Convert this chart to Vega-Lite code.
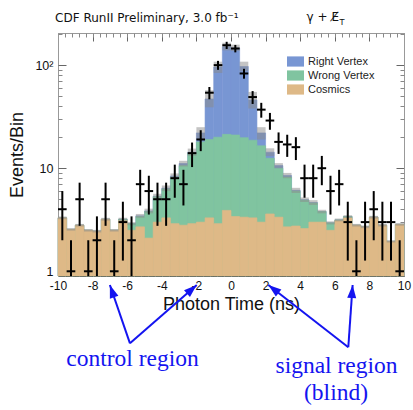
{
  "$schema": "https://vega.github.io/schema/vega-lite/v6.json",
  "width": 346,
  "height": 243,
  "autosize": "none",
  "padding": {"left": 58, "top": 33, "right": 9, "bottom": 134},
  "background": "white",
  "config": {"view": {"stroke": null}, "font": "Liberation Sans", "axis": {"zindex": 1, "grid": false}},
  "datasets": {
    "bins": [
      {"t0": -10, "t1": -9.5, "t": -9.75, "n": 4, "lo": 2, "hi": 6, "cos": 3.3, "wv": 3.3, "rv": 3.3, "blo": 3.2, "bhi": 3.4},
      {"t0": -9.5, "t1": -9, "t": -9.25, "n": 1, "lo": 0, "hi": 2, "cos": 2.55, "wv": 2.55, "rv": 2.55, "blo": 2.48, "bhi": 2.62},
      {"t0": -9, "t1": -8.5, "t": -8.75, "n": 5, "lo": 2.76, "hi": 7.24, "cos": 2.8, "wv": 2.8, "rv": 2.8, "blo": 2.72, "bhi": 2.88},
      {"t0": -8.5, "t1": -8, "t": -8.25, "n": 1, "lo": 0, "hi": 2, "cos": 2.5, "wv": 2.5, "rv": 2.5, "blo": 2.43, "bhi": 2.57},
      {"t0": -8, "t1": -7.5, "t": -7.75, "n": 2, "lo": 0.59, "hi": 3.41, "cos": 2.45, "wv": 2.45, "rv": 2.45, "blo": 2.38, "bhi": 2.52},
      {"t0": -7.5, "t1": -7, "t": -7.25, "n": 5, "lo": 2.76, "hi": 7.24, "cos": 3.2, "wv": 3.2, "rv": 3.2, "blo": 3.1, "bhi": 3.3},
      {"t0": -7, "t1": -6.5, "t": -6.75, "n": 1, "lo": 0, "hi": 2, "cos": 2.5, "wv": 2.5, "rv": 2.5, "blo": 2.43, "bhi": 2.57},
      {"t0": -6.5, "t1": -6, "t": -6.25, "n": 3, "lo": 1.27, "hi": 4.73, "cos": 3.1, "wv": 3.2, "rv": 3.2, "blo": 3.1, "bhi": 3.3},
      {"t0": -6, "t1": -5.5, "t": -5.75, "n": 2, "lo": 0.59, "hi": 3.41, "cos": 2.5, "wv": 2.9, "rv": 2.9, "blo": 2.8, "bhi": 3.0},
      {"t0": -5.5, "t1": -5, "t": -5.25, "n": 7, "lo": 4.35, "hi": 9.65, "cos": 2.7, "wv": 3.4, "rv": 3.45, "blo": 3.3, "bhi": 3.6},
      {"t0": -5, "t1": -4.5, "t": -4.75, "n": 6, "lo": 3.55, "hi": 8.45, "cos": 2.1, "wv": 3.8, "rv": 3.85, "blo": 3.65, "bhi": 4.05},
      {"t0": -4.5, "t1": -4, "t": -4.25, "n": 5, "lo": 2.76, "hi": 7.24, "cos": 3.0, "wv": 5.3, "rv": 5.35, "blo": 5.05, "bhi": 5.65},
      {"t0": -4, "t1": -3.5, "t": -3.75, "n": 5, "lo": 2.76, "hi": 7.24, "cos": 3.3, "wv": 6.3, "rv": 6.4, "blo": 6.0, "bhi": 6.8},
      {"t0": -3.5, "t1": -3, "t": -3.25, "n": 8, "lo": 5.17, "hi": 10.83, "cos": 2.9, "wv": 8.2, "rv": 8.4, "blo": 7.9, "bhi": 8.9},
      {"t0": -3, "t1": -2.5, "t": -2.75, "n": 7, "lo": 4.35, "hi": 9.65, "cos": 2.8, "wv": 10.6, "rv": 11.1, "blo": 10.4, "bhi": 11.8},
      {"t0": -2.5, "t1": -2, "t": -2.25, "n": 14, "lo": 10.26, "hi": 17.74, "cos": 2.9, "wv": 14.0, "rv": 14.3, "blo": 13.2, "bhi": 15.5},
      {"t0": -2, "t1": -1.5, "t": -1.75, "n": 19, "lo": 14.64, "hi": 23.36, "cos": 3.0, "wv": 18, "rv": 22, "blo": 19, "bhi": 25},
      {"t0": -1.5, "t1": -1, "t": -1.25, "n": 54, "lo": 46.65, "hi": 61.35, "cos": 3.3, "wv": 19, "rv": 47, "blo": 39, "bhi": 57},
      {"t0": -1, "t1": -0.5, "t": -0.75, "n": 100, "lo": 90, "hi": 110, "cos": 2.9, "wv": 20, "rv": 96, "blo": 84, "bhi": 108},
      {"t0": -0.5, "t1": 0, "t": -0.25, "n": 156, "lo": 143.51, "hi": 168.49, "cos": 3.9, "wv": 21.3, "rv": 151, "blo": 139, "bhi": 165},
      {"t0": 0, "t1": 0.5, "t": 0.25, "n": 145, "lo": 132.96, "hi": 157.04, "cos": 3.4, "wv": 21, "rv": 147, "blo": 137, "bhi": 158},
      {"t0": 0.5, "t1": 1, "t": 0.75, "n": 83, "lo": 73.89, "hi": 92.11, "cos": 3.35, "wv": 19.8, "rv": 97, "blo": 87, "bhi": 108},
      {"t0": 1, "t1": 1.5, "t": 1.25, "n": 49, "lo": 42, "hi": 56, "cos": 3.3, "wv": 18.7, "rv": 46, "blo": 38, "bhi": 55},
      {"t0": 1.5, "t1": 2, "t": 1.75, "n": 37, "lo": 30.92, "hi": 43.08, "cos": 3.0, "wv": 16.5, "rv": 22, "blo": 19, "bhi": 25},
      {"t0": 2, "t1": 2.5, "t": 2.25, "n": 29, "lo": 23.61, "hi": 34.39, "cos": 3.6, "wv": 12.5, "rv": 14.3, "blo": 13.1, "bhi": 15.6},
      {"t0": 2.5, "t1": 3, "t": 2.75, "n": 18, "lo": 13.76, "hi": 22.24, "cos": 3.35, "wv": 10, "rv": 10.6, "blo": 10, "bhi": 11.2},
      {"t0": 3, "t1": 3.5, "t": 3.25, "n": 17, "lo": 12.88, "hi": 21.12, "cos": 2.7, "wv": 8.2, "rv": 8.5, "blo": 8.0, "bhi": 9.0},
      {"t0": 3.5, "t1": 4, "t": 3.75, "n": 16, "lo": 12, "hi": 20, "cos": 2.75, "wv": 6.0, "rv": 6.1, "blo": 5.75, "bhi": 6.45},
      {"t0": 4, "t1": 4.5, "t": 4.25, "n": 8, "lo": 5.17, "hi": 10.83, "cos": 2.6, "wv": 4.9, "rv": 4.95, "blo": 4.7, "bhi": 5.2},
      {"t0": 4.5, "t1": 5, "t": 4.75, "n": 8, "lo": 5.17, "hi": 10.83, "cos": 3.0, "wv": 4.6, "rv": 4.65, "blo": 4.4, "bhi": 4.9},
      {"t0": 5, "t1": 5.5, "t": 5.25, "n": 10, "lo": 6.84, "hi": 13.16, "cos": 3.0, "wv": 3.8, "rv": 3.8, "blo": 3.65, "bhi": 3.95},
      {"t0": 5.5, "t1": 6, "t": 5.75, "n": 6, "lo": 3.55, "hi": 8.45, "cos": 2.5, "wv": 2.95, "rv": 2.95, "blo": 2.85, "bhi": 3.05},
      {"t0": 6, "t1": 6.5, "t": 6.25, "n": 7, "lo": 4.35, "hi": 9.65, "cos": 3.1, "wv": 3.15, "rv": 3.15, "blo": 3.05, "bhi": 3.25},
      {"t0": 6.5, "t1": 7, "t": 6.75, "n": 3, "lo": 1.27, "hi": 4.73, "cos": 3.3, "wv": 3.4, "rv": 3.4, "blo": 3.3, "bhi": 3.5},
      {"t0": 7, "t1": 7.5, "t": 7.25, "n": 1, "lo": 0, "hi": 2, "cos": 2.8, "wv": 2.8, "rv": 2.8, "blo": 2.72, "bhi": 2.88},
      {"t0": 7.5, "t1": 8, "t": 7.75, "n": 3, "lo": 1.27, "hi": 4.73, "cos": 2.7, "wv": 2.7, "rv": 2.7, "blo": 2.62, "bhi": 2.78},
      {"t0": 8, "t1": 8.5, "t": 8.25, "n": 4, "lo": 2, "hi": 6, "cos": 3.35, "wv": 3.35, "rv": 3.35, "blo": 3.25, "bhi": 3.45},
      {"t0": 8.5, "t1": 9, "t": 8.75, "n": 3, "lo": 1.27, "hi": 4.73, "cos": 2.8, "wv": 2.8, "rv": 2.8, "blo": 2.72, "bhi": 2.88},
      {"t0": 9, "t1": 9.5, "t": 9.25, "n": 3, "lo": 1.27, "hi": 4.73, "cos": 1.95, "wv": 1.95, "rv": 1.95, "blo": 1.9, "bhi": 2.0},
      {"t0": 9.5, "t1": 10, "t": 9.75, "n": 1, "lo": 0, "hi": 2, "cos": 2.85, "wv": 2.85, "rv": 2.85, "blo": 2.77, "bhi": 2.93}
    ],
    "arrows": [
      {"x": -5.84, "y": -0.277, "x2": -7.0, "y2": -0.037},
      {"x": -5.84, "y": -0.277, "x2": -1.98, "y2": -0.037},
      {"x": 6.78, "y": -0.293, "x2": 2.16, "y2": -0.037},
      {"x": 6.78, "y": -0.293, "x2": 7.03, "y2": -0.037}
    ],
    "notes": [
      {"x": -5.69, "y": -0.37, "text": "control region"},
      {"x": 6.1, "y": -0.4, "text": "signal region"},
      {"x": 6.07, "y": -0.51, "text": "(blind)"}
    ],
    "heads": [
      {"x": -10.17, "y": 1.0465, "text": "CDF RunII Preliminary, 3.0 fb⁻¹"},
      {"x": 4.37, "y": 1.0485, "text": "γ + E̸"}
    ]
  },
  "resolve": {"scale": {"y": "independent"}},
  "layer": [
    {
      "data": {"name": "bins"},
      "resolve": {"axis": {"x": "independent", "y": "independent"}},
      "layer": [
        {
          "mark": {"type": "rect", "stroke": "#7896D3", "strokeWidth": 0.6},
          "encoding": {
            "x": {"field": "t0", "type": "quantitative",
              "scale": {"domain": [-10, 10], "nice": false, "zero": false},
              "axis": {"orient": "bottom", "values": [-10, -8, -6, -4, -2, 0, 2, 4, 6, 8, 10], "labelExpr": "'' + datum.value",
                "ticks": false, "tickSize": 0, "domain": true, "domainColor": "#000", "domainWidth": 1.2,
                "labelFontSize": 12, "labelColor": "#111", "labelPadding": 4, "labelFlush": false, "labelOverlap": false,
                "title": "Photon Time (ns)", "titleFontSize": 18, "titleFontWeight": "normal", "titleColor": "#111", "titlePadding": 4}},
            "x2": {"field": "t1"},
            "y": {"field": "rv", "type": "quantitative",
              "scale": {"type": "log", "domain": [0.9, 205], "nice": false, "zero": false, "clamp": true},
              "axis": {"orient": "left", "values": [1, 10, 100],
                "labelExpr": "datum.value == 100 ? '10²' : (datum.value == 10 ? '10' : '1')",
                "ticks": false, "tickSize": 0, "domain": true, "domainColor": "#999",
                "labelFontSize": 12.5, "labelColor": "#111", "labelPadding": 5, "labelFlush": false, "labelOverlap": false,
                "title": "Events/Bin", "titleFontSize": 18, "titleFontWeight": "normal", "titleColor": "#111", "titlePadding": 8}},
            "y2": {"datum": 0.9},
            "color": {"datum": "Right Vertex",
              "scale": {"domain": ["Right Vertex", "Wrong Vertex", "Cosmics"], "range": ["#7896D3", "#80C4A0", "#DEB987"]},
              "legend": {"orient": "none", "legendX": 229, "legendY": 20, "title": null,
                "symbolType": "M-1,-0.6H1V0.6H-1Z", "symbolSize": 289, "symbolStrokeWidth": 0, "symbolOpacity": 1,
                "labelFontSize": 11, "labelFont": "Liberation Sans", "labelColor": "#222", "labelOffset": 4,
                "rowPadding": 0, "padding": 0}}
          }
        },
        {
          "mark": {"type": "rect", "stroke": "#80C4A0", "strokeWidth": 0.6},
          "encoding": {
            "x": {"field": "t0", "type": "quantitative",
              "axis": {"orient": "bottom", "values": [-10, -8, -6, -4, -2, 0, 2, 4, 6, 8, 10], "labels": false, "domain": false,
                "ticks": true, "tickSize": -8, "tickColor": "#444", "title": null}},
            "x2": {"field": "t1"},
            "y": {"field": "wv", "type": "quantitative", "scale": {"type": "log"},
              "axis": {"orient": "left", "values": [1, 10, 100], "labels": false, "domain": false,
                "ticks": true, "tickSize": -8, "tickColor": "#666", "title": null}},
            "y2": {"datum": 0.9},
            "color": {"datum": "Wrong Vertex"}
          }
        },
        {
          "mark": {"type": "rect", "stroke": "#DEB987", "strokeWidth": 0.6},
          "encoding": {
            "x": {"field": "t0", "type": "quantitative",
              "axis": {"orient": "bottom", "values": [-10, -9.6, -9.2, -8.8, -8.4, -8, -7.6, -7.2, -6.8, -6.4, -6, -5.6, -5.2, -4.8, -4.4, -4, -3.6, -3.2, -2.8, -2.4, -2, -1.6, -1.2, -0.8, -0.4, 0, 0.4, 0.8, 1.2, 1.6, 2, 2.4, 2.8, 3.2, 3.6, 4, 4.4, 4.8, 5.2, 5.6, 6, 6.4, 6.8, 7.2, 7.6, 8, 8.4, 8.8, 9.2, 9.6, 10],
                "labels": false, "domain": false, "ticks": true, "tickSize": -4, "tickColor": "#777", "title": null}},
            "x2": {"field": "t1"},
            "y": {"field": "cos", "type": "quantitative", "scale": {"type": "log"},
              "axis": {"orient": "left", "values": [2, 3, 4, 5, 6, 7, 8, 9, 20, 30, 40, 50, 60, 70, 80, 90, 200], "labels": false, "domain": false,
                "ticks": true, "tickSize": -4, "tickColor": "#888", "title": null}},
            "y2": {"datum": 0.9},
            "color": {"datum": "Cosmics"}
          }
        },
        {
          "mark": {"type": "rect", "color": "#8a8a8a", "opacity": 0.5},
          "encoding": {
            "x": {"field": "t0", "type": "quantitative",
              "axis": {"orient": "top", "values": [-10, -8, -6, -4, -2, 0, 2, 4, 6, 8, 10], "labels": false, "domain": true, "domainColor": "#999",
                "ticks": true, "tickSize": -8, "tickColor": "#666", "title": null}},
            "x2": {"field": "t1"},
            "y": {"field": "blo", "type": "quantitative", "scale": {"type": "log"},
              "axis": {"orient": "right", "values": [1, 10, 100], "labels": false, "domain": true, "domainColor": "#999",
                "ticks": true, "tickSize": -8, "tickColor": "#666", "title": null}},
            "y2": {"field": "bhi"}
          }
        },
        {
          "mark": {"type": "rule", "color": "#000", "strokeWidth": 2},
          "encoding": {
            "x": {"field": "t", "type": "quantitative",
              "axis": {"orient": "top", "values": [-10, -9.6, -9.2, -8.8, -8.4, -8, -7.6, -7.2, -6.8, -6.4, -6, -5.6, -5.2, -4.8, -4.4, -4, -3.6, -3.2, -2.8, -2.4, -2, -1.6, -1.2, -0.8, -0.4, 0, 0.4, 0.8, 1.2, 1.6, 2, 2.4, 2.8, 3.2, 3.6, 4, 4.4, 4.8, 5.2, 5.6, 6, 6.4, 6.8, 7.2, 7.6, 8, 8.4, 8.8, 9.2, 9.6, 10],
                "labels": false, "domain": false, "ticks": true, "tickSize": -4, "tickColor": "#888", "title": null}},
            "y": {"field": "lo", "type": "quantitative", "scale": {"type": "log"},
              "axis": {"orient": "right", "values": [2, 3, 4, 5, 6, 7, 8, 9, 20, 30, 40, 50, 60, 70, 80, 90, 200], "labels": false, "domain": false,
                "ticks": true, "tickSize": -4, "tickColor": "#888", "title": null}},
            "y2": {"field": "hi"}
          }
        },
        {
          "mark": {"type": "rule", "color": "#000", "strokeWidth": 2},
          "encoding": {
            "x": {"field": "t0", "type": "quantitative", "axis": null},
            "x2": {"field": "t1"},
            "y": {"field": "n", "type": "quantitative", "scale": {"type": "log"}, "axis": null}
          }
        }
      ]
    },
    {
      "layer": [
        {
          "data": {"name": "arrows"},
          "mark": {"type": "rule", "color": "#1414F0", "strokeWidth": 2},
          "encoding": {
            "x": {"field": "x", "type": "quantitative", "axis": null},
            "y": {"field": "y", "type": "quantitative", "scale": {"domain": [0, 1], "nice": false, "zero": false}, "axis": null},
            "x2": {"field": "x2"},
            "y2": {"field": "y2"}
          }
        },
        {
          "data": {"values": [{}]},
          "mark": {"type": "point", "shape": "M0,0L-0.45,1.3L0.45,1.3Z", "size": 400, "filled": true, "color": "#1414F0", "opacity": 1, "angle": 341},
          "encoding": {"x": {"datum": -7.0, "type": "quantitative", "axis": null}, "y": {"datum": -0.037, "type": "quantitative", "axis": null}}
        },
        {
          "data": {"values": [{}]},
          "mark": {"type": "point", "shape": "M0,0L-0.45,1.3L0.45,1.3Z", "size": 400, "filled": true, "color": "#1414F0", "opacity": 1, "angle": 48.8},
          "encoding": {"x": {"datum": -1.98, "type": "quantitative", "axis": null}, "y": {"datum": -0.037, "type": "quantitative", "axis": null}}
        },
        {
          "data": {"values": [{}]},
          "mark": {"type": "point", "shape": "M0,0L-0.45,1.3L0.45,1.3Z", "size": 400, "filled": true, "color": "#1414F0", "opacity": 1, "angle": 307.9},
          "encoding": {"x": {"datum": 2.16, "type": "quantitative", "axis": null}, "y": {"datum": -0.037, "type": "quantitative", "axis": null}}
        },
        {
          "data": {"values": [{}]},
          "mark": {"type": "point", "shape": "M0,0L-0.45,1.3L0.45,1.3Z", "size": 400, "filled": true, "color": "#1414F0", "opacity": 1, "angle": 4},
          "encoding": {"x": {"datum": 7.03, "type": "quantitative", "axis": null}, "y": {"datum": -0.037, "type": "quantitative", "axis": null}}
        },
        {
          "data": {"name": "notes"},
          "mark": {"type": "text", "font": "Liberation Serif", "fontSize": 23.5, "color": "#1414F0", "align": "center", "baseline": "alphabetic"},
          "encoding": {
            "x": {"field": "x", "type": "quantitative", "axis": null},
            "y": {"field": "y", "type": "quantitative", "axis": null},
            "text": {"field": "text"}
          }
        },
        {
          "data": {"name": "heads"},
          "mark": {"type": "text", "font": "DejaVu Sans", "fontSize": 12, "color": "#111", "align": "left", "baseline": "alphabetic"},
          "encoding": {
            "x": {"field": "x", "type": "quantitative", "axis": null},
            "y": {"field": "y", "type": "quantitative", "axis": null},
            "text": {"field": "text"}
          }
        },
        {
          "data": {"values": [{}]},
          "mark": {"type": "text", "font": "Liberation Sans", "fontSize": 9, "color": "#111", "align": "left", "baseline": "alphabetic", "text": "T"},
          "encoding": {"x": {"datum": 6.25, "type": "quantitative", "axis": null}, "y": {"datum": 1.033, "type": "quantitative", "axis": null}}
        }
      ]
    }
  ]
}
